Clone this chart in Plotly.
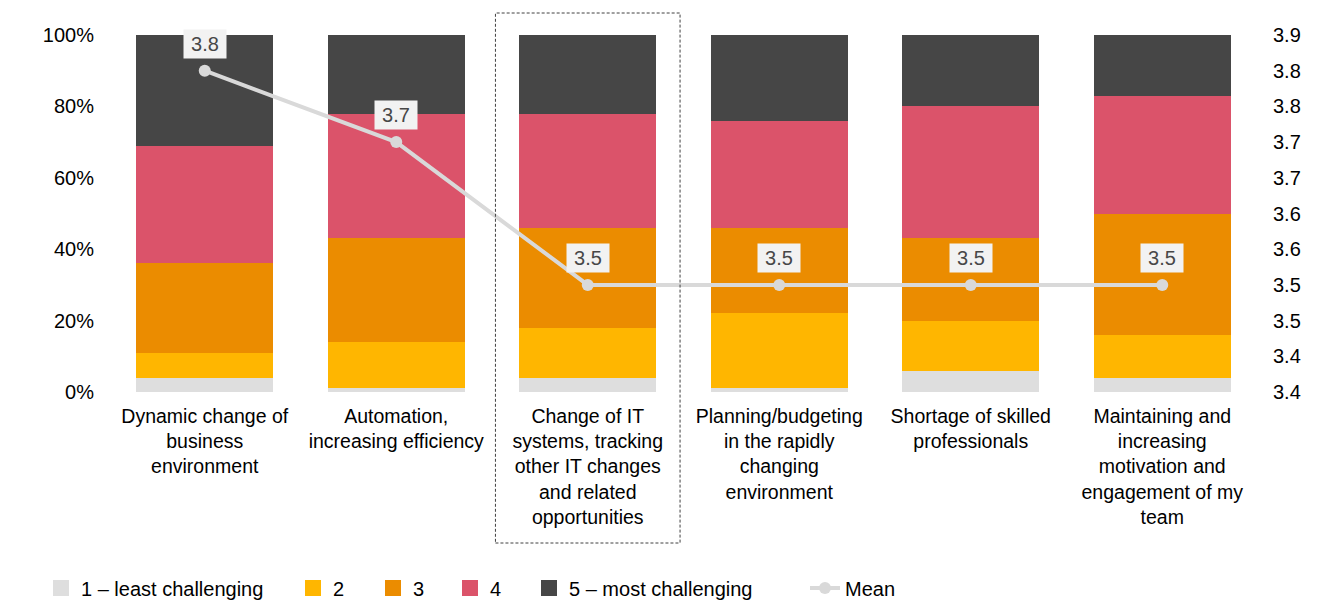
import plotly.graph_objects as go

categories = [
    "Dynamic change of<br>business<br>environment",
    "Automation,<br>increasing efficiency",
    "Change of IT<br>systems, tracking<br>other IT changes<br>and related<br>opportunities",
    "Planning/budgeting<br>in the rapidly<br>changing<br>environment",
    "Shortage of skilled<br>professionals",
    "Maintaining and<br>increasing<br>motivation and<br>engagement of my<br>team",
]
level_names = ["1 – least challenging", "2", "3", "4", "5 – most challenging"]
level_colors = ["#DEDEDE", "#FFB600", "#EB8C00", "#DB536A", "#464646"]

share_1 = [4, 1, 4, 1, 6, 4]
share_2 = [7, 13, 14, 21, 14, 12]
share_3 = [25, 29, 28, 24, 23, 34]
share_4 = [33, 35, 32, 30, 37, 33]
share_5 = [31, 22, 22, 24, 20, 17]
shares = [share_1, share_2, share_3, share_4, share_5]

mean_values = [3.8, 3.7, 3.5, 3.5, 3.5, 3.5]
mean_name = "Mean"
mean_color = "#D9D9D9"

left_tickvals = [0, 20, 40, 60, 80, 100]
left_ticktext = ["0%", "20%", "40%", "60%", "80%", "100%"]
right_range = [3.35, 3.85]
right_tickvals = [3.35, 3.40, 3.45, 3.50, 3.55, 3.60, 3.65, 3.70, 3.75, 3.80, 3.85]
right_ticktext = ["3.4", "3.4", "3.5", "3.5", "3.6", "3.6", "3.7", "3.7", "3.8", "3.8", "3.9"]

highlight_index = 2

FONT = "Liberation Sans, Arial, sans-serif"
# the page body has an 8px default margin: size the figure to fill the rest
OFF = 8
W, H = 1336 - OFF, 612 - OFF
PLOT_L, PLOT_R, PLOT_T, PLOT_B = 109, 1258, 35, 392   # page pixels
ML, MR, MT, MB = PLOT_L - OFF, 1336 - PLOT_R, PLOT_T - OFF, 612 - PLOT_B
PW = PLOT_R - PLOT_L
PH = PLOT_B - PLOT_T

fig = go.Figure()

for name, color, vals in zip(level_names, level_colors, shares):
    fig.add_trace(go.Bar(
        x=categories, y=vals, name=name, marker_color=color,
        marker_line_width=0, showlegend=False, hoverinfo="skip",
    ))

fig.add_trace(go.Scatter(
    x=categories, y=mean_values, name=mean_name, yaxis="y2",
    mode="lines+markers", line=dict(color=mean_color, width=4),
    marker=dict(color=mean_color, size=12), showlegend=False,
))

# legend entries (one legend per entry so spacing can follow the reference)
legend_centers = [61, 313, 393, 470, 549, 825]
legend_y_px = 588
legend_ids = ["legend", "legend2", "legend3", "legend4", "legend5", "legend6"]
layout_legends = {}
for i, (name, color) in enumerate(zip(level_names, level_colors)):
    fig.add_trace(go.Scatter(
        x=[None], y=[None], name=name, mode="markers",
        marker=dict(symbol="square", size=16, color=color),
        legend=legend_ids[i], showlegend=True,
    ))
fig.add_trace(go.Scatter(
    x=[None], y=[None], name=mean_name, mode="lines+markers",
    line=dict(color=mean_color, width=4), marker=dict(color=mean_color, size=12),
    legend=legend_ids[5], showlegend=True,
))
for i, lid in enumerate(legend_ids):
    layout_legends[lid] = dict(
        x=(legend_centers[i] - 20 - PLOT_L) / PW, xanchor="left",
        y=-(legend_y_px - PLOT_B) / PH, yanchor="middle",
        orientation="h", font=dict(family=FONT, size=20, color="#000000"),
        bgcolor="rgba(0,0,0,0)", borderwidth=0,
    )

annotations = []
for cat, v in zip(categories, mean_values):
    annotations.append(dict(
        x=cat, y=v, xref="x", yref="y2", text=f"{v:.1f}", showarrow=False,
        yshift=27, bgcolor="#F2F2F2", borderpad=3, width=36,
        font=dict(family=FONT, size=20, color="#474747"),
    ))

shapes = [dict(
    type="rect", xref="x", yref="paper",
    x0=highlight_index - 0.482, x1=highlight_index + 0.482,
    y0=-(543 - PLOT_B) / PH, y1=1 + (PLOT_T - 13) / PH,
    line=dict(color="#404040", width=1, dash="3px,2px"),
    fillcolor="rgba(0,0,0,0)", layer="above",
)]

fig.update_layout(
    width=W, height=H,
    margin=dict(l=ML, r=MR, t=MT, b=MB, pad=0, autoexpand=False),
    barmode="stack", bargap=0.285,
    paper_bgcolor="white", plot_bgcolor="white",
    font=dict(family=FONT, size=20, color="#000000"),
    xaxis=dict(showgrid=False, zeroline=False, showline=False, ticks="",
               automargin=False,
               tickfont=dict(family=FONT, size=19.5, color="#000000"),
               ticklabelstandoff=10),
    yaxis=dict(range=[0, 100], tickvals=left_tickvals, ticktext=left_ticktext,
               showgrid=False, zeroline=False, showline=False, ticks="",
               automargin=False,
               tickfont=dict(family=FONT, size=20, color="#000000"),
               ticklabelstandoff=14),
    yaxis2=dict(range=right_range, tickvals=right_tickvals, ticktext=right_ticktext,
                overlaying="y", side="right", showgrid=False, zeroline=False,
                showline=False, ticks="", automargin=False,
                tickfont=dict(family=FONT, size=20, color="#000000"),
                ticklabelstandoff=14),
    annotations=annotations, shapes=shapes,
    **layout_legends,
)

fig.write_html("out.html")
